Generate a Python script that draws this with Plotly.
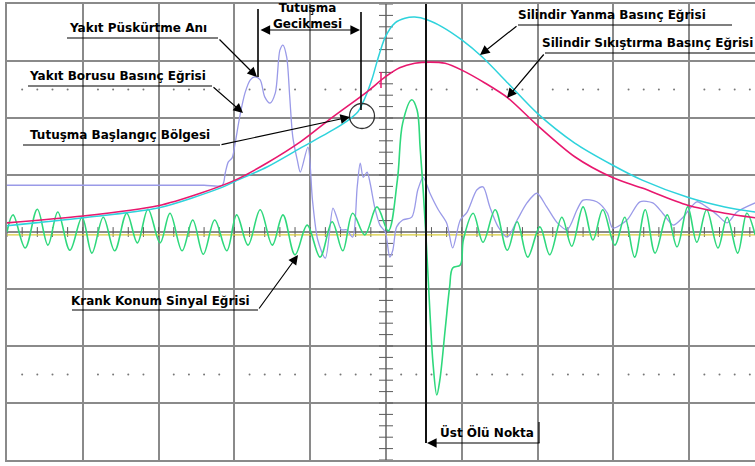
import plotly.graph_objects as go

# ---- data (oscilloscope divisions: x 0..10, y -4..4) ----
crank_x = [0.00,0.08,0.24,0.40,0.54,0.67,0.83,0.99,1.12,1.27,1.42,1.58,1.72,1.86,2.02,2.15,2.31,2.45,2.59,2.74,
           2.90,3.03,3.18,3.34,3.50,3.64,3.80,3.96,4.13,4.29,4.43,4.56,4.72,4.88,5.03,5.15,5.22,5.34,5.41,5.45,
           5.49,5.53,5.58,5.62,5.67,5.71,5.78,5.84,5.88,5.98,6.02,6.15,6.28,6.44,6.60,6.73,6.87,7.03,7.16,7.32,
           7.45,7.60,7.73,7.86,8.02,8.15,8.28,8.42,8.55,8.71,8.84,8.98,9.10,9.23,9.38,9.50,9.64,9.76,9.87]
crank_y = [0.00,0.30,-0.28,0.40,-0.23,0.35,-0.32,0.26,-0.37,0.26,-0.33,0.33,-0.19,0.40,-0.19,0.33,-0.33,0.21,-0.39,0.21,
           -0.33,0.30,-0.23,0.39,-0.23,0.30,-0.40,0.12,-0.44,0.18,-0.33,0.33,-0.05,0.44,0.02,0.91,1.91,2.32,2.14,1.49,
           0.74,-0.14,-1.42,-2.30,-2.86,-2.60,-1.72,-0.96,-0.63,-0.58,-0.14,0.33,-0.18,0.39,-0.32,0.18,-0.44,0.09,-0.40,0.26,
           -0.25,0.44,-0.14,0.39,-0.23,0.26,-0.44,0.39,-0.37,0.30,-0.26,0.44,-0.18,0.39,-0.28,0.26,-0.37,0.33,-0.05]

comb_x = [0.00,1.00,1.99,2.81,3.01,3.43,3.87,4.30,4.49,4.63,4.68,4.75,4.82,4.88,4.99,5.12,5.25,5.38,5.55,5.74,
          6.00,6.27,6.61,6.99,7.49,7.98,8.38,8.98,9.47,9.87]
comb_y = [0.11,0.25,0.42,0.77,0.89,1.14,1.47,1.79,1.95,2.11,2.23,2.44,2.70,2.98,3.42,3.67,3.75,3.77,3.72,3.60,
          3.37,3.07,2.61,2.09,1.56,1.18,0.91,0.61,0.44,0.35]

comp_x = [0.00,1.00,1.99,2.55,3.01,3.43,3.87,4.30,4.75,4.99,5.18,5.38,5.58,5.78,6.00,6.31,6.61,6.99,7.49,7.98,
          8.38,8.98,9.47,9.87]
comp_y = [0.16,0.28,0.46,0.68,0.91,1.21,1.58,2.02,2.46,2.72,2.88,2.96,2.98,2.96,2.84,2.61,2.35,1.88,1.32,0.96,
          0.77,0.47,0.33,0.25]

fuel_x = [0.00,1.40,2.60,2.84,2.88,2.92,2.97,3.01,3.07,3.14,3.21,3.27,3.34,3.40,3.47,3.54,3.60,3.64,3.69,3.73,3.77,3.83,
          3.87,3.97,4.03,4.10,4.20,4.30,4.35,4.41,4.48,4.56,4.62,4.66,4.70,4.75,4.79,4.85,4.92,4.99,5.05,5.09,
          5.14,5.22,5.34,5.42,5.49,5.58,5.69,5.80,5.88,5.98,6.07,6.20,6.28,6.37,6.48,6.60,6.73,6.86,6.99,7.12,
          7.26,7.39,7.52,7.60,7.78,7.92,7.99,8.18,8.35,8.52,8.65,8.79,8.92,9.10,9.23,9.37,9.50,9.63,9.87]
fuel_y = [0.82,0.82,0.82,0.82,1.04,1.23,1.30,1.56,2.02,2.44,2.67,2.72,2.67,2.37,2.26,2.44,3.19,3.28,3.07,2.37,1.67,1.26,
          1.05,1.49,0.56,-0.14,-0.46,0.42,0.26,0.04,0.04,-0.09,0.79,1.21,0.96,1.05,0.86,0.44,0.12,0.00,-0.44,-0.32,
          0.09,0.21,0.26,0.74,0.96,0.68,0.39,0.16,-0.28,0.21,0.35,0.74,0.79,0.44,0.09,-0.09,0.21,0.51,0.68,0.44,
          0.16,0.04,0.39,0.56,0.53,0.33,0.07,0.21,0.53,0.51,0.33,0.12,0.26,0.53,0.44,0.30,0.16,0.35,0.51]

ref_level = -0.05

labels = {
    "inj": "Yakıt Püskürtme Anı",
    "pipe": "Yakıt Borusu Basınç Eğrisi",
    "ign": "Tutuşma Başlangıç Bölgesi",
    "delay": "Tutuşma<br>Gecikmesi",
    "comb": "Silindir Yanma Basınç Eğrisi",
    "comp": "Silindir Sıkıştırma Basınç Eğrisi",
    "crank": "Krank Konum Sinyal Eğrisi",
    "tdc": "Üst Ölü Nokta",
}

# ---- layout helpers (screen pixel -> division) ----
W, H = 755, 466
L, T, B = 7, 4, 6
DX, DY = 75.8, 57.0
XMAX = (W - L) / DX


def X(px):
    return (px - L) / DX


def Y(py):
    return (232 - py) / DY


fig = go.Figure()

GRID = "#8a8a8a"
AX = "#5a5a5a"

# dotted guide lines at +/-2.5 div
dx, dy = [], []
for k in range(10):
    for j in (0.2, 0.4, 0.6, 0.8):
        for yy in (2.5, -2.5):
            dx.append(k + j)
            dy.append(yy)
fig.add_trace(go.Scatter(x=dx, y=dy, mode="markers", marker=dict(size=2, color="#777777"),
                         hoverinfo="skip", showlegend=False))

# centre axis minor ticks
tx = [i * 0.2 for i in range(0, 50)]
fig.add_trace(go.Scatter(x=tx, y=[0] * len(tx), mode="markers",
                         marker=dict(symbol="line-ns", size=7, line=dict(width=1, color=AX)),
                         hoverinfo="skip", showlegend=False))
ty = [-4 + i * 0.2 for i in range(0, 41)]
fig.add_trace(go.Scatter(x=[5] * len(ty), y=ty, mode="markers",
                         marker=dict(symbol="line-ew", size=10, line=dict(width=1, color=AX)),
                         hoverinfo="skip", showlegend=False))

# signals
fig.add_trace(go.Scatter(x=[0, XMAX], y=[ref_level, ref_level], mode="lines",
                         line=dict(color="#d8cc3a", width=1.3), showlegend=False))
fig.add_trace(go.Scatter(x=fuel_x, y=fuel_y, mode="lines",
                         line=dict(color="#9a9ae8", width=1.3, shape="spline", smoothing=0.8), showlegend=False))
fig.add_trace(go.Scatter(x=crank_x, y=crank_y, mode="lines",
                         line=dict(color="#2fd87c", width=1.6, shape="spline", smoothing=1.0), showlegend=False))
fig.add_trace(go.Scatter(x=comb_x, y=comb_y, mode="lines",
                         line=dict(color="#2ed3dc", width=1.5, shape="spline", smoothing=0.8), showlegend=False))
fig.add_trace(go.Scatter(x=comp_x, y=comp_y, mode="lines",
                         line=dict(color="#e8186e", width=1.6, shape="spline", smoothing=0.8), showlegend=False))

# markers: trigger triangle at bottom, channel marker at left
fig.add_trace(go.Scatter(x=[5], y=[Y(463)], mode="markers", cliponaxis=False,
                         marker=dict(symbol="triangle-up", size=8, color="#22cc66"),
                         hoverinfo="skip", showlegend=False))
fig.add_trace(go.Scatter(x=[X(4)], y=[Y(222)], mode="markers", cliponaxis=False,
                         marker=dict(symbol="square", size=6, color="#3fb8c0"),
                         hoverinfo="skip", showlegend=False))

shapes = []


def seg(x0, y0, x1, y1, color="black", width=1.2):
    shapes.append(dict(type="line", xref="x", yref="y", x0=X(x0), y0=Y(y0), x1=X(x1), y1=Y(y1),
                       line=dict(color=color, width=width), layer="above"))


# centre axes (darker)
shapes.append(dict(type="line", xref="x", yref="y", x0=5, x1=5, y0=-4, y1=4,
                   line=dict(color=AX, width=2), layer="below"))
shapes.append(dict(type="line", xref="x", yref="y", x0=0, x1=XMAX, y0=0, y1=0,
                   line=dict(color=AX, width=2), layer="below"))
# TDC line
seg(426, 4, 426, 443, color="#111111", width=2)
# ignition-delay markers
seg(258, 9, 258, 77, width=1.6)
seg(361, 12, 361, 110, width=1.6)
# underlines
seg(67, 38, 218, 38)
seg(28, 86, 212, 86)
seg(23, 145, 220, 145)
seg(518, 25, 732, 25)
seg(545, 53, 755, 53)
seg(72, 310, 258, 310)
seg(539, 422, 539, 443)
# small magenta marker on compression curve
seg(381, 72, 381, 88, color="#e8186e", width=1.5)
# ignition circle
shapes.append(dict(type="circle", xref="x", yref="y", x0=X(349.5), x1=X(374.5), y0=Y(103.5), y1=Y(128.5),
                   line=dict(color="#333333", width=1.3)))

ann = []
FONT = dict(family="DejaVu Sans", size=12, color="black")


def text(px, py, t):
    ann.append(dict(x=X(px), y=Y(py), xref="x", yref="y", text="<b>" + t + "</b>", showarrow=False,
                    font=FONT, xanchor="center", yanchor="middle", align="center"))


def arrow(tail, tip, side="end"):
    ann.append(dict(x=X(tip[0]), y=Y(tip[1]), xref="x", yref="y", text="", showarrow=True,
                    ax=tail[0] - tip[0], ay=tail[1] - tip[1], arrowhead=2, arrowsize=1.6,
                    arrowwidth=1.2, arrowcolor="black", arrowside=side, standoff=0, startstandoff=0))


text(138, 28, labels["inj"])
text(117, 76, labels["pipe"])
text(120, 135, labels["ign"])
text(307, 16, labels["delay"])
text(612, 15, labels["comb"])
text(647, 43, labels["comp"])
text(160, 301, labels["crank"])
text(487, 432, labels["tdc"])

arrow((218, 38), (257, 77))
arrow((212, 86), (243, 113))
arrow((220, 145), (350, 117))
arrow((518, 25), (480, 55))
arrow((545, 53), (507, 98))
arrow((258, 310), (298, 255))
arrow((541, 443), (427, 443))
# double arrow for ignition delay
ann.append(dict(x=X(360), y=Y(30), xref="x", yref="y", text="", showarrow=True,
                ax=X(259), ay=Y(30), axref="x", ayref="y", arrowhead=2, startarrowhead=2,
                arrowsize=1.6, startarrowsize=1.6, arrowwidth=1.2, arrowcolor="black",
                arrowside="end+start", standoff=0, startstandoff=0))

fig.update_layout(
    width=W, height=H,
    margin=dict(l=L, r=0, t=T, b=B),
    paper_bgcolor="white", plot_bgcolor="white",
    xaxis=dict(range=[0, XMAX], tick0=0, dtick=1, showgrid=True, gridcolor=GRID, gridwidth=2,
               zeroline=False, showticklabels=False, ticks="", showline=True, linecolor=GRID,
               linewidth=2, mirror=True, fixedrange=True),
    yaxis=dict(range=[-4, 4], tick0=0, dtick=1, showgrid=True, gridcolor=GRID, gridwidth=2,
               zeroline=False, showticklabels=False, ticks="", showline=True, linecolor=GRID,
               linewidth=2, mirror=False, fixedrange=True),
    shapes=shapes,
    annotations=ann,
    showlegend=False,
)

fig.write_html("out.html")
